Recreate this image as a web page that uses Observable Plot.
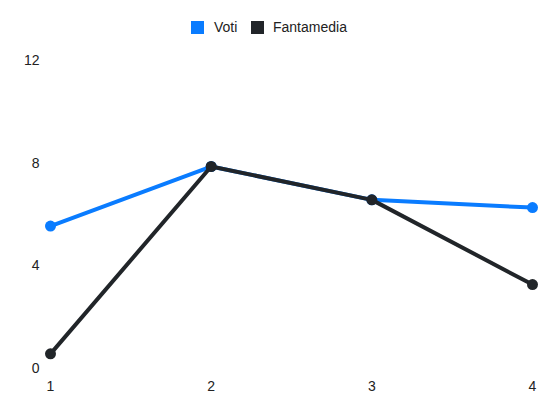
<!DOCTYPE html>
<html>
<head>
<meta charset="utf-8">
<script src="https://cdn.jsdelivr.net/npm/d3@7"></script>
<script src="https://cdn.jsdelivr.net/npm/@observablehq/plot@0.6"></script>
<style>
  body { margin: 0; background: #fff; font-family: "Liberation Sans", Arial, sans-serif; }
  #wrap { position: relative; width: 550px; height: 412px; }
  #legend { position: relative; height: 44px; font-size: 14px; color: #222; }
  .sw { position: absolute; top: 21px; width: 13px; height: 13px; }
  .lt { position: absolute; top: 19px; line-height: 16px; }
  #chart svg { display: block; }
</style>
</head>
<body>
<div id="wrap">
  <div id="legend">
    <span class="sw" style="left:191px;background:#0a7cff"></span><span class="lt" style="left:214px">Voti</span>
    <span class="sw" style="left:251px;background:#212529"></span><span class="lt" style="left:273px">Fantamedia</span>
  </div>
  <div id="chart"></div>
</div>
<script>
const giornate = [1, 2, 3, 4];
const voti = [5.55, 7.87, 6.57, 6.27];
const fantamedia = [0.57, 7.87, 6.57, 3.27];
const yTicks = [0, 4, 8, 12];
const seriesNames = ["Voti", "Fantamedia"];
const seriesColors = ["#0a7cff", "#212529"];

const rowsVoti = giornate.map((g, i) => ({x: g, y: voti[i], s: seriesNames[0]}));
const rowsFm = giornate.map((g, i) => ({x: g, y: fantamedia[i], s: seriesNames[1]}));

const chart = Plot.plot({
  width: 550,
  height: 368,
  marginTop: 16,
  marginBottom: 44,
  marginLeft: 50,
  marginRight: 18,
  style: {fontFamily: "Liberation Sans, Arial, sans-serif", fontSize: "14px", color: "#222", background: "#fff"},
  x: {domain: [1, 4], ticks: giornate, tickFormat: d => String(d), tickSize: 0, tickPadding: 13, label: null},
  y: {domain: [0, 12], ticks: yTicks, tickSize: 0, tickPadding: 11, label: null},
  color: {domain: seriesNames, range: seriesColors},
  marks: [
    Plot.line(rowsVoti, {x: "x", y: "y", stroke: seriesColors[0], strokeWidth: 4}),
    Plot.dot(rowsVoti, {x: "x", y: "y", fill: seriesColors[0], r: 5.5}),
    Plot.line(rowsFm, {x: "x", y: "y", stroke: seriesColors[1], strokeWidth: 4}),
    Plot.dot(rowsFm, {x: "x", y: "y", fill: seriesColors[1], r: 5.5})
  ]
});
document.getElementById("chart").appendChild(chart);
</script>
</body>
</html>
